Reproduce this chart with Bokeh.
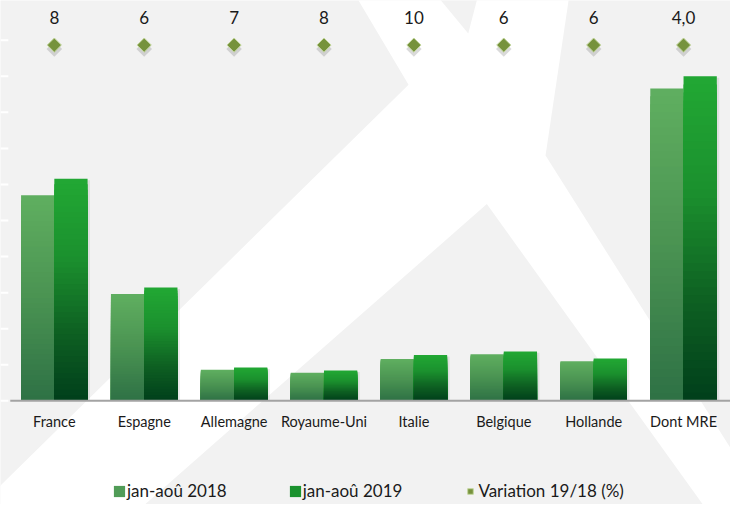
import math
from bokeh.plotting import figure
from bokeh.models import Range1d, Span, Legend, LegendItem
from bokeh.core.properties import value
from bokeh.embed import file_html
from bokeh.resources import INLINE

# ---------------- data ----------------
categories = ["France", "Espagne", "Allemagne", "Royaume-Uni", "Italie",
              "Belgique", "Hollande", "Dont MRE"]
arrivals_2018 = [2850, 1480, 430, 390, 580, 645, 550, 4330]
arrivals_2019 = [3080, 1570, 462, 420, 635, 685, 585, 4500]
variation_labels = ["8", "6", "7", "8", "10", "6", "6", "4,0"]
series_names = ["jan-aoû 2018", "jan-aoû 2019", "Variation 19/18 (%)"]
tick_values = [0, 500, 1000, 1500, 2000, 2500, 3000, 3500, 4000, 4500, 5000]

# ---------------- layout (reference-pixel geometry) ----------------
W, H = 730, 504
REF_W, REF_H = 746, 520
BASE_REF = 413           # baseline row in reference pixels
UNIT_REF = 37.2 / 500.0  # reference pixels per data unit
CAT_REF = 91.86          # reference pixels per category
FIRST_CAT_REF = 55       # first category centre column
BAR_W = 0.37


def fx(ref_x):
    return (ref_x - FIRST_CAT_REF) / CAT_REF


def fy(ref_y):
    return (BASE_REF - ref_y) / UNIT_REF


x_start, x_end = fx(0), fx(REF_W)
y_bot, y_top = fy(REF_H), fy(0)


def hex2rgb(h):
    return tuple(int(h[i:i + 2], 16) for i in (1, 3, 5))


def grad(stops, t):
    for (t0, c0), (t1, c1) in zip(stops[:-1], stops[1:]):
        if t0 <= t <= t1:
            f = (t - t0) / (t1 - t0) if t1 > t0 else 0
            a, b = hex2rgb(c0), hex2rgb(c1)
            return "#%02x%02x%02x" % tuple(round(a[i] + (b[i] - a[i]) * f) for i in range(3))
    return stops[-1][1]


stops_2018 = [(0.0, "#60af60"), (0.5, "#4a9352"), (1.0, "#2e7145")]
stops_2019 = [(0.0, "#22a834"), (0.35, "#1b912e"), (0.7, "#0e5f22"), (1.0, "#003f1b")]

p = figure(width=W, height=H, output_backend="svg", toolbar_location=None,
           x_range=Range1d(x_start, x_end), y_range=Range1d(y_bot, y_top),
           min_border=0, outline_line_color=None,
           background_fill_color="#f2f2f2", border_fill_color="#f2f2f2")
p.xaxis.visible = False
p.yaxis.visible = False
p.xgrid.visible = False
p.ygrid.visible = False

# ---------------- background watermark ----------------
white_poly = [(360, -10), (582, -10), (557, 160), (795, 540), (732, 540),
              (497, 210), (125, 540), (-40, 540), (417, 87)]
p.patch([fx(a) for a, b in white_poly], [fy(b) for a, b in white_poly],
        fill_color="#ffffff", line_color=None)
notch = [(446, -5), (488, -5), (478, 34)]
p.patch([fx(a) for a, b in notch], [fy(b) for a, b in notch],
        fill_color="#f2f2f2", line_color=None)

# small white tick marks at the left edge
p.segment(x0=[fx(0)] * len(tick_values), x1=[fx(8)] * len(tick_values),
          y0=tick_values, y1=tick_values, line_color="#ffffff", line_width=2)

# ---------------- bars with vertical gradients ----------------
N = 40
idx = list(range(len(categories)))
x18 = [i - BAR_W / 2 for i in idx]
x19 = [i + BAR_W / 2 for i in idx]

# soft shadow
p.vbar(x=[i + BAR_W / 2 + 2.5 / CAT_REF for i in idx], width=BAR_W, bottom=0,
       top=[v - 1.5 / UNIT_REF for v in arrivals_2019], fill_color="#000000",
       fill_alpha=0.08, line_color=None)

legend_r = {}
for series, xs, vals, stops in (("2018", x18, arrivals_2018, stops_2018),
                                ("2019", x19, arrivals_2019, stops_2019)):
    for k in range(N):
        frac_top = (N - k) / N
        col = grad(stops, (k + 0.5) / N)
        r = p.vbar(x=xs, width=BAR_W, bottom=0, top=[v * frac_top for v in vals],
                   fill_color=col, line_color=None)
        if k == N // 3:
            legend_r[series] = r

# baseline
p.segment(x0=[fx(10)], x1=[fx(REF_W)], y0=[0], y1=[0], line_color="#a3a3a3", line_width=2)

# ---------------- variation markers ----------------
DIAMOND_ROW = 46
LABEL_ROW = 18
p.scatter(x=idx, y=[fy(DIAMOND_ROW + 4)] * len(idx), marker="square", angle=math.pi / 4,
          size=11, fill_color="#555555", fill_alpha=0.22, line_color=None)
diam = p.scatter(x=idx, y=[fy(DIAMOND_ROW)] * len(idx), marker="square", angle=math.pi / 4,
                 size=10, fill_color="#76923c", line_color="#c4d79e", line_width=1)

p.text(x=idx, y=[fy(LABEL_ROW)] * len(idx), text=variation_labels,
       text_font=value("Lato"), text_font_size="17px", text_color="#1a1a1a",
       text_align="center", text_baseline="middle")

# category labels
p.text(x=idx, y=[fy(434)] * len(idx), text=categories,
       text_font=value("Lato"), text_font_size="14.5px", text_color="#1a1a1a",
       text_align="center", text_baseline="middle")

# ---------------- legend ----------------
legend = Legend(items=[
    LegendItem(label=series_names[0], renderers=[legend_r["2018"]]),
    LegendItem(label=series_names[1], renderers=[legend_r["2019"]]),
    LegendItem(label=series_names[2], renderers=[diam]),
], orientation="horizontal", location=(112, 3))
legend.label_text_font = "Lato"
legend.label_text_font_size = "17px"
legend.label_text_color = "#1a1a1a"
legend.glyph_width = 14
legend.glyph_height = 14
legend.label_standoff = 1
legend.label_height = 18
legend.spacing = 61
legend.padding = 0
legend.margin = 0
legend.background_fill_alpha = 0
legend.border_line_alpha = 0
p.add_layout(legend, "center")

open("out.html", "w").write(file_html(p, INLINE))
